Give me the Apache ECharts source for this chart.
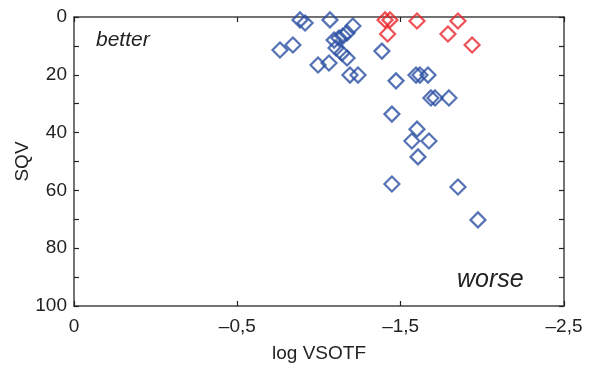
<!DOCTYPE html>
<html>
<head>
<meta charset="utf-8">
<script src="https://cdn.jsdelivr.net/npm/echarts@6/dist/echarts.min.js"></script>
<style>html,body{margin:0;padding:0;background:#fff}#c{width:593px;height:368px}</style>
</head>
<body>
<div id="c"></div>
<script>
// log VSOTF (x) and SQV (y)
const blueX = [-1.051,-1.117,-1.153,-1.179,-1.306,-1.423,-1.327,-1.352,-1.372,-1.393,-1.337,-1.367,-1.393,-1.245,-1.301,-1.408,-1.449,-1.571,-1.643,-1.745,-1.765,-1.806,-1.821,-1.842,-1.913,-1.622,-1.750,-1.724,-1.811,-1.755,-1.622,-1.959,-2.061];
const blueY = [11.4,9.7,1.0,2.1,1.0,3.1,8.0,7.3,6.6,5.5,10.7,12.5,14.2,16.6,15.9,20.1,20.1,11.8,22.1,20.1,20.1,20.1,28.0,28.0,28.0,33.6,38.8,42.9,42.9,48.4,57.8,58.8,70.2];
const redX = [-1.587,-1.612,-1.600,-1.750,-1.959,-1.908,-2.031];
const redY = [1.0,1.0,5.9,1.4,1.4,5.9,9.7];
const xTickLabels = ['0','\u20130,5','\u20131,5','\u20132,5'];
const xStep = 2.5/3;

const blue = blueX.map((x,i)=>[x,blueY[i]]);
const red = redX.map((x,i)=>[x,redY[i]]);

const font = 'Liberation Sans, Arial, sans-serif';
function axLine(c){ return {show:true, onZero:false, lineStyle:{color:c, width:1.5}}; }
function tk(c){ return {show:true, inside:true, length:5, lineStyle:{color:c, width:1.2}}; }

const chart = echarts.init(document.getElementById('c'));
chart.setOption({
  animation:false,
  grid:{left:74, right:29, top:17, bottom:62, containLabel:false, outerBoundsMode:'none'},
  xAxis:[
    {type:'value', min:-2.5, max:0, interval:xStep, inverse:true, position:'bottom',
      axisLine:axLine('#444'), axisTick:tk('#222'), splitLine:{show:false},
      name:'log VSOTF', nameLocation:'middle', nameGap:38, nameMoveOverlap:false,
      nameTextStyle:{fontSize:19, color:'#222', fontFamily:font},
      axisLabel:{fontSize:19, color:'#222', fontFamily:font, margin:11,
        formatter:v=>xTickLabels[Math.round(-v/xStep)]}},
    {type:'value', min:-2.5, max:0, interval:xStep, inverse:true, position:'top',
      axisLine:axLine('#444'), axisTick:tk('#222'), splitLine:{show:false}, axisLabel:{show:false}}
  ],
  yAxis:[
    {type:'value', min:0, max:100, interval:10, inverse:true, position:'left',
      axisLine:axLine('#444'), axisTick:tk('#222'), splitLine:{show:false},
      name:'SQV', nameLocation:'middle', nameGap:42, nameMoveOverlap:false,
      nameTextStyle:{fontSize:19, color:'#222', fontFamily:font},
      axisLabel:{fontSize:19, color:'#222', fontFamily:font, margin:7,
        formatter:v=> (Math.round(v)%20===0 ? String(Math.round(v)) : '')}},
    {type:'value', min:0, max:100, interval:10, inverse:true, position:'right',
      axisLine:axLine('#444'), axisTick:tk('#222'), splitLine:{show:false}, axisLabel:{show:false}}
  ],
  graphic:[
    {type:'text', left:96, top:30, style:{text:'better', fill:'#222', font:'italic 21px Liberation Sans, Arial, sans-serif'}},
    {type:'text', left:457, top:268, style:{text:'worse', fill:'#222', font:'italic 25px Liberation Sans, Arial, sans-serif'}}
  ],
  series:[
    {type:'scatter', data:blue, symbol:'diamond', symbolSize:15, xAxisIndex:0, yAxisIndex:0,
      itemStyle:{color:'rgba(255,255,255,0)', borderColor:'#2a4fa3', borderWidth:2.2}},
    {type:'scatter', data:red, symbol:'diamond', symbolSize:15, xAxisIndex:0, yAxisIndex:0,
      itemStyle:{color:'rgba(255,255,255,0)', borderColor:'#e8262b', borderWidth:2.2}}
  ]
});
</script>
</body>
</html>
